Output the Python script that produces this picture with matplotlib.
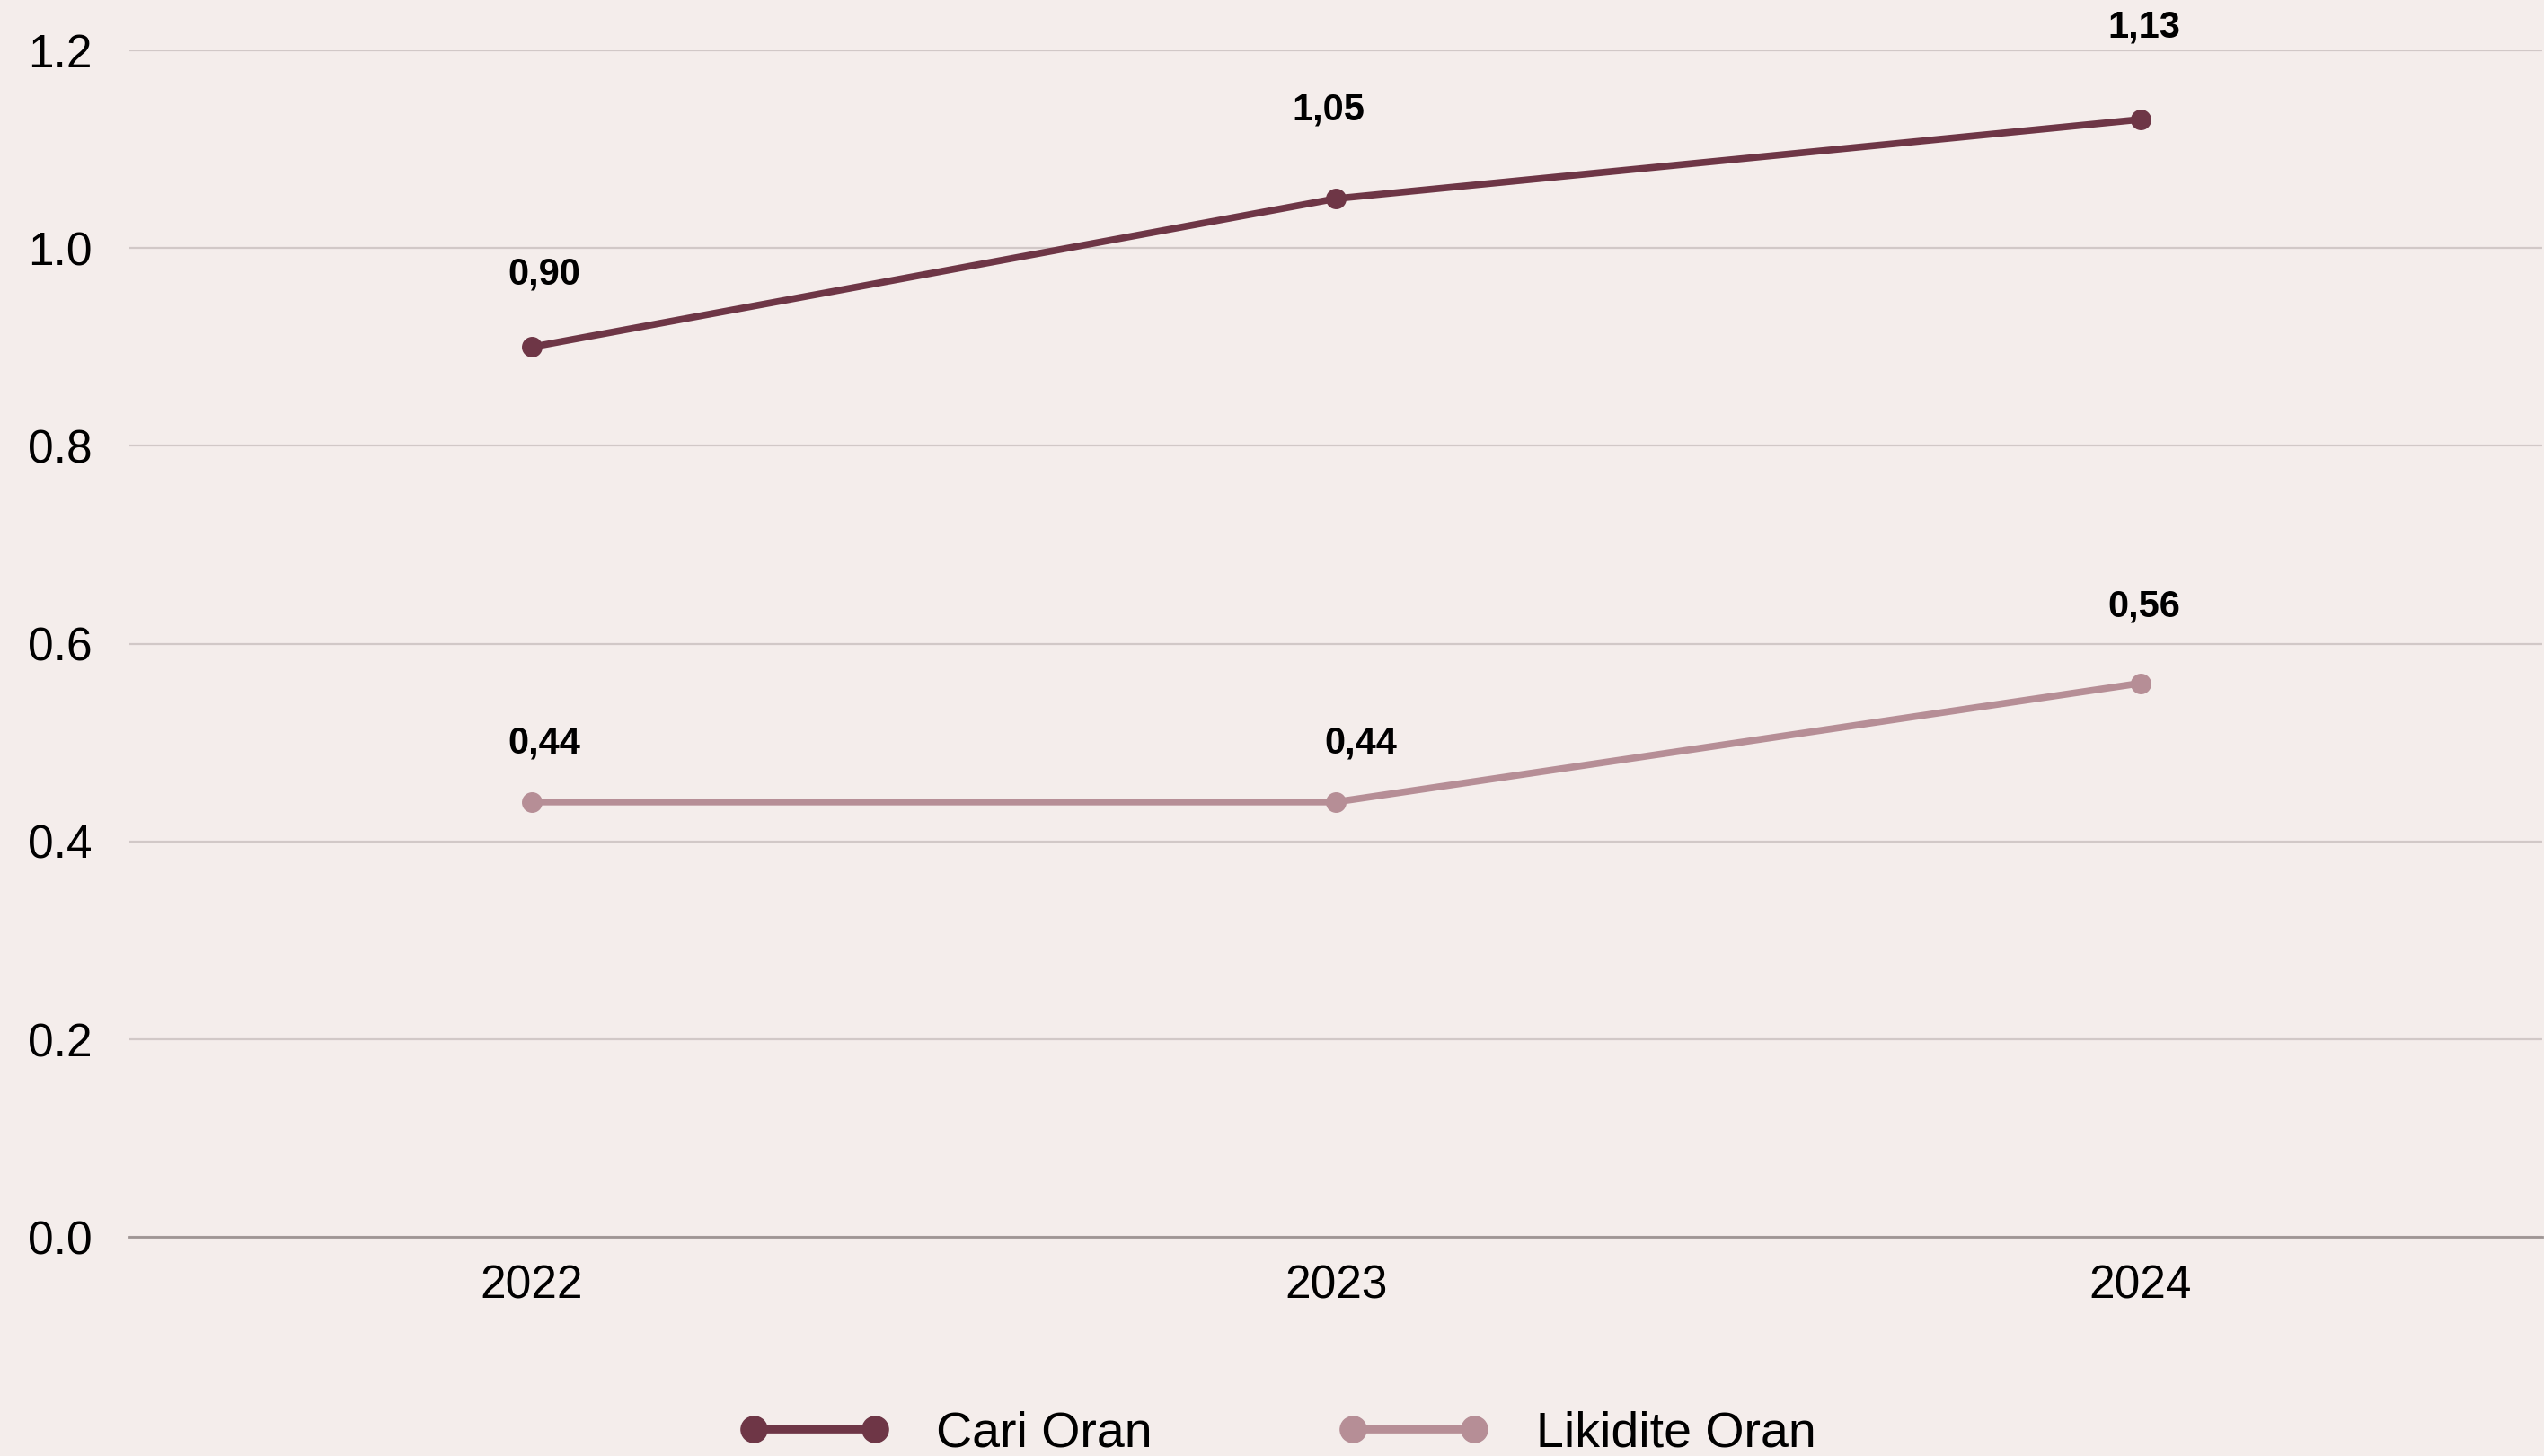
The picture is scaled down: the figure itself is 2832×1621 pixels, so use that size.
import matplotlib
matplotlib.use("Agg")
import matplotlib.pyplot as plt
from matplotlib.lines import Line2D

years = ["2022", "2023", "2024"]
cari_oran = [0.90, 1.05, 1.13]
likidite_oran = [0.44, 0.44, 0.56]
cari_labels = ["0,90", "1,05", "1,13"]
likidite_labels = ["0,44", "0,44", "0,56"]
yticks = [0.0, 0.2, 0.4, 0.6, 0.8, 1.0, 1.2]

# label offsets (points) as placed in the original
cari_offsets = [(10, 58), (-6.5, 71), (3, 74)]
likidite_offsets = [(10, 47), (20, 47), (3, 61)]

plt.rcParams['font.family'] = ['Liberation Sans', 'DejaVu Sans']

BG = "#F4EDEB"
C1 = "#6E3646"
C2 = "#B68E96"

fig = plt.figure(figsize=(28.32, 16.21), dpi=100, facecolor=BG)
ax = fig.add_axes([0.051, 0.1503, 0.9484, 0.8152])
ax.set_facecolor(BG)

x = list(range(len(years)))
ax.plot(x, cari_oran, color=C1, lw=5.5, marker='o', ms=15.5, zorder=3, clip_on=False)
ax.plot(x, likidite_oran, color=C2, lw=5.5, marker='o', ms=15.5, zorder=3, clip_on=False)

for xi, v, t, off in zip(x, cari_oran, cari_labels, cari_offsets):
    ax.annotate(t, (xi, v), xytext=off, textcoords='offset points',
                ha='center', va='center', fontsize=30, fontweight='bold',
                color='black', annotation_clip=False)
for xi, v, t, off in zip(x, likidite_oran, likidite_labels, likidite_offsets):
    ax.annotate(t, (xi, v), xytext=off, textcoords='offset points',
                ha='center', va='center', fontsize=30, fontweight='bold',
                color='black', annotation_clip=False)

ax.set_xlim(-0.5, 2.5)
ax.set_ylim(0, 1.2)
ax.set_xticks(x)
ax.set_xticklabels(years)
ax.set_yticks(yticks)
ax.set_yticklabels([f"{v:.1f}" for v in yticks])
ax.tick_params(axis='both', length=0, labelsize=37, colors='black')
ax.tick_params(axis='y', pad=30)
ax.tick_params(axis='x', pad=22)

ax.grid(axis='y', color='#D1C8C7', lw=1.6)
ax.set_axisbelow(True)
for s in ['top', 'right', 'left']:
    ax.spines[s].set_visible(False)
ax.spines['bottom'].set_color('#9E9594')
ax.spines['bottom'].set_linewidth(2)
ax.spines['bottom'].set_zorder(2)

handles = [Line2D([], [], color=C1, lw=7, marker='o', ms=21),
           Line2D([], [], color=C2, lw=7, marker='o', ms=21)]
fig.legend(handles, ["Cari Oran", "Likidite Oran"], loc='center',
           bbox_to_anchor=(0.502, 0.015), ncol=2, frameon=False,
           fontsize=40, handlelength=3.03, handletextpad=0.93,
           columnspacing=3.73, numpoints=2)

fig.savefig("out.png", dpi=100, facecolor=BG)
